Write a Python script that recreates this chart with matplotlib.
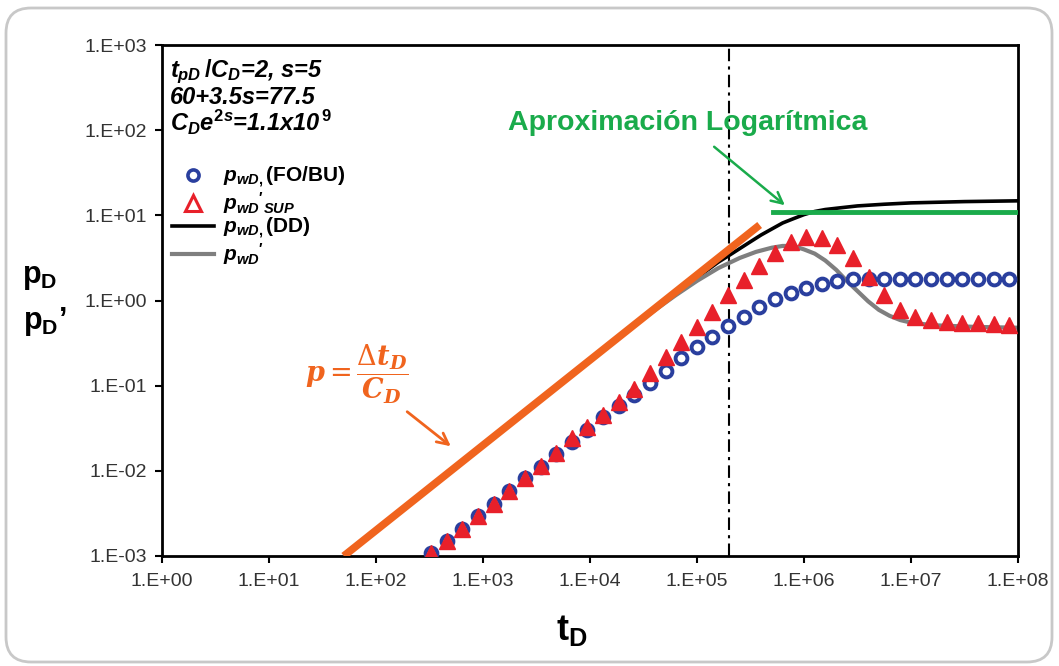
import matplotlib
matplotlib.use('Agg')
import matplotlib.pyplot as plt
from matplotlib.lines import Line2D
from matplotlib.patches import FancyBboxPatch

plt.rcParams['font.family'] = ['Liberation Sans', 'DejaVu Sans']
plt.rcParams['mathtext.fontset'] = 'custom'
plt.rcParams['mathtext.it'] = 'Liberation Sans:italic:bold'
plt.rcParams['mathtext.rm'] = 'Liberation Sans:bold'
plt.rcParams['mathtext.bf'] = 'Liberation Sans:bold'

# tiempos de los marcadores (t_D)
t_markers = [330, 460, 640, 900, 1260, 1760, 2470, 3450, 4830, 6760,
             9460, 1.32e4, 1.85e4, 2.59e4, 3.63e4, 5.08e4, 7.11e4, 9.95e4, 1.39e5, 1.95e5,
             2.73e5, 3.82e5, 5.35e5, 7.48e5, 1.05e6, 1.47e6, 2.05e6, 2.87e6, 4.02e6, 5.62e6,
             7.87e6, 1.10e7, 1.54e7, 2.16e7, 3.02e7, 4.23e7, 5.92e7, 8.28e7]

# p_wD' (FO/BU)
p_fobu = [1.07e-3, 1.51e-3, 2.09e-3, 2.95e-3, 4.07e-3, 5.75e-3, 8.13e-3, 1.12e-2, 1.58e-2, 2.19e-2,
          3.02e-2, 4.27e-2, 5.75e-2, 7.76e-2, 0.107, 0.148, 0.209, 0.282, 0.372, 0.501,
          0.646, 0.832, 1.05, 1.23, 1.41, 1.58, 1.70, 1.78, 1.78, 1.78,
          1.78, 1.78, 1.78, 1.78, 1.78, 1.78, 1.78, 1.78]

# p_wD'_SUP
p_sup = [1.07e-3, 1.51e-3, 2.09e-3, 2.95e-3, 4.07e-3, 5.75e-3, 8.13e-3, 1.15e-2, 1.62e-2, 2.40e-2,
         3.24e-2, 4.57e-2, 6.46e-2, 9.12e-2, 0.141, 0.219, 0.324, 0.490, 0.741, 1.15,
         1.74, 2.57, 3.63, 4.90, 5.62, 5.37, 4.47, 3.16, 1.91, 1.17,
         0.776, 0.646, 0.589, 0.562, 0.550, 0.537, 0.525, 0.513]

# p_wD (DD)
t_dd = [100, 1e3, 1e4, 3.16e4, 6.3e4, 1e5, 1.26e5, 1.58e5, 2e5, 2.51e5, 3.16e5, 3.98e5,
        5.01e5, 6.31e5, 7.94e5, 1e6, 1.26e6, 1.58e6, 2.24e6, 3.16e6, 5.62e6, 1e7, 3.16e7, 1e8]
p_dd = [0.002, 0.02, 0.2, 0.62, 1.2, 1.86, 2.29, 2.82, 3.39, 4.07, 4.90, 5.89,
        6.92, 8.13, 9.12, 10.2, 11.1, 11.7, 12.3, 12.9, 13.5, 14.0, 14.5, 14.8]

# p_wD'
t_der = [100, 1e3, 1e4, 3.16e4, 6.3e4, 1e5, 1.58e5, 2.51e5, 3.55e5, 5.01e5, 6.31e5, 7.94e5,
         1e6, 1.26e6, 1.58e6, 2e6, 2.51e6, 3.16e6, 3.98e6, 5.01e6, 6.31e6, 7.94e6, 1e7,
         1.58e7, 3.98e7, 1e8]
p_der = [0.002, 0.02, 0.2, 0.617, 1.15, 1.70, 2.40, 3.16, 3.72, 4.17, 4.37, 4.37,
         3.98, 3.55, 2.95, 2.29, 1.70, 1.29, 0.977, 0.776, 0.661, 0.589, 0.550,
         0.513, 0.490, 0.479]

# almacenamiento (pendiente unitaria) y aproximacion logaritmica
t_wbs = [50, 3.85e5]
p_wbs = [1e-3, 7.7]
t_log = [5.1e5, 1e8]
p_log = [11, 11]
t_vert = 2e5

xticks = [1e0, 1e1, 1e2, 1e3, 1e4, 1e5, 1e6, 1e7, 1e8]
xlabels = ['1.E+00', '1.E+01', '1.E+02', '1.E+03', '1.E+04', '1.E+05', '1.E+06', '1.E+07', '1.E+08']
yticks = [1e-3, 1e-2, 1e-1, 1e0, 1e1, 1e2, 1e3]
ylabels = ['1.E-03', '1.E-02', '1.E-01', '1.E+00', '1.E+01', '1.E+02', '1.E+03']

orange = '#f0641e'
green = '#1aab4b'
blue = '#2a3f9e'
red = '#e8202a'
gray = '#7f7f7f'

W, H = 1059, 666
fig = plt.figure(figsize=(W / 100, H / 100), dpi=100)

# marco redondeado de fondo
frame = FancyBboxPatch((0.06, 0.04), 10.46, 6.54, boxstyle='round,pad=0,rounding_size=0.25',
                       transform=fig.dpi_scale_trans, facecolor='white', edgecolor='#c8c8c8',
                       lw=2, zorder=-10)
fig.patches.append(frame)

ax = fig.add_axes([162 / W, 1 - 556 / H, 856 / W, 511 / H])
ax.set_zorder(1)
ax.patch.set_alpha(0)
ax.set_xscale('log')
ax.set_yscale('log')
ax.set_xlim(1e0, 1e8)
ax.set_ylim(1e-3, 1e3)

ax.plot(t_dd, p_dd, color='black', lw=2.6, zorder=2)
ax.plot(t_der, p_der, color=gray, lw=3, zorder=2)
ax.plot(t_markers, p_fobu, ls='none', marker='o', ms=8.5, mfc='white', mec=blue, mew=2.8, zorder=3)
ax.plot(t_markers, p_sup, ls='none', marker='^', ms=11.5, color=red, zorder=4)
ax.plot(t_wbs, p_wbs, color=orange, lw=5.5, solid_capstyle='butt', zorder=5)
ax.plot(t_log, p_log, color=green, lw=3.5, zorder=5)
ax.axvline(t_vert, color='black', lw=1.5, ls=(0, (6, 2.5, 1.5, 2.5)), zorder=1)

ax.minorticks_off()
ax.set_xticks(xticks)
ax.set_xticklabels(xlabels)
ax.set_yticks(yticks)
ax.set_yticklabels(ylabels)
ax.tick_params(direction='out', length=5, width=1.5, labelsize=14, colors='black', labelcolor='#333333')
ax.tick_params(axis='x', pad=7)
ax.tick_params(axis='y', pad=6)
for s in ax.spines.values():
    s.set_linewidth(2)

# leyenda
handles = [Line2D([], [], ls='none', marker='o', ms=8, mfc='white', mec=blue, mew=2.6),
           Line2D([], [], ls='none', marker='^', ms=11, mfc='white', mec=red, mew=2.2),
           Line2D([], [], color='black', lw=2.6),
           Line2D([], [], color=gray, lw=3)]
labels = [r"$p_{wD,}$(FO/BU)", r"$p_{wD}{}'_{SUP}$", r"$p_{wD,}$(DD)", r"$p_{wD}{}'$"]
ax.legend(handles, labels, loc='upper left', bbox_to_anchor=(0.012, 0.765), frameon=False,
          prop={'weight': 'bold', 'size': 15}, handlelength=2.0, handletextpad=0.45,
          labelspacing=0.0, borderpad=0, borderaxespad=0)

# textos de parametros
txt = dict(fontsize=17, fontweight='bold', fontstyle='italic', ha='left', va='center')
fig.text(170 / W, 1 - 72 / H, r"$t_{pD}\,/C_D$=2, s=5", **txt)
fig.text(170 / W, 1 - 97 / H, "60+3.5s=77.5", **txt)
fig.text(170 / W, 1 - 122 / H, r"$C_De^{2s}$=1.1x10$^{\,9}$", **txt)

fig.text(688 / W, 1 - 123 / H, 'Aproximación Logarítmica', color=green, fontsize=20.5,
         fontweight='bold', ha='center', va='center')
ax.annotate('', xy=(787, H - 207), xytext=(712, H - 145), xycoords='figure pixels',
            textcoords='figure pixels',
            arrowprops=dict(arrowstyle='->', color=green, lw=1.8, mutation_scale=20))

fig.text(357 / W, 1 - 374 / H,
         r'$\mathbfit{p} = \dfrac{\Delta \mathbfit{t}_{\mathbfit{D}}}{\mathbfit{C}_{\mathbfit{D}}}$',
         math_fontfamily='dejavuserif', color=orange, fontsize=19.5, ha='center', va='center')
ax.annotate('', xy=(453, H - 448), xytext=(405, H - 410), xycoords='figure pixels',
            textcoords='figure pixels',
            arrowprops=dict(arrowstyle='->', color=orange, lw=2, mutation_scale=20))

# titulos de ejes
fig.text(40 / W, 1 - 277 / H, r'$\mathrm{p_D}$', fontsize=22, ha='center', va='center')
fig.text(45 / W, 1 - 322 / H, r"$\mathrm{p_D}$’", fontsize=22, fontweight='bold',
         ha='center', va='center')
fig.text(572 / W, 1 - 630 / H, r'$\mathrm{t_D}$', fontsize=26, ha='center', va='center')

fig.savefig('out.png', dpi=100)
